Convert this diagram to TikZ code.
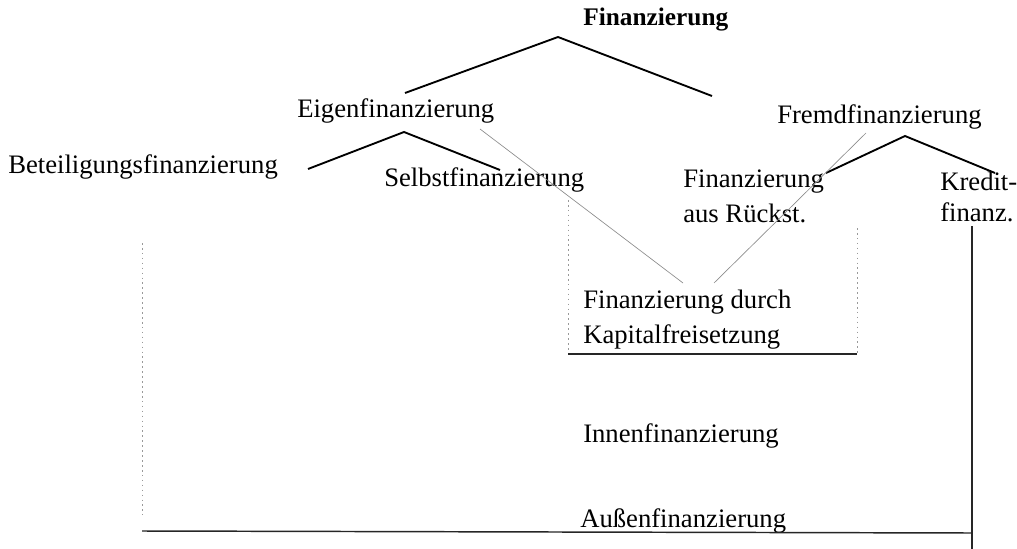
\documentclass[tikz,border=0pt]{standalone}
\usepackage{fontspec}
\setmainfont{Liberation Serif}
\begin{document}
\begin{tikzpicture}[x=0.75pt,y=-0.75pt,
  lbl/.style={anchor=west,inner sep=0pt,font=\fontsize{20}{22}\selectfont},
  tree/.style={line width=1.4pt,black},
  thin/.style={line width=0.5pt,black!45},
  dotv/.style={line width=0.6pt,black!40,dash pattern=on 1.2pt off 2.5pt},
  solidl/.style={line width=1.1pt,black!85}]
\useasboundingbox (0,0) rectangle (1017,549);
% text nodes
\node[lbl,font=\bfseries\fontsize{19}{21}\selectfont] (fin) at (583,20) {Finanzierung};
\node[lbl] (eigen) at (297,111) {Eigenfinanzierung};
\node[lbl] (fremd) at (777,117) {Fremdfinanzierung};
\node[lbl] (beteil) at (8,167) {Beteiligungsfinanzierung};
\node[lbl] (selbst) at (384,180) {Selbstfinanzierung};
\node[lbl] (rueck1) at (683,182) {Finanzierung};
\node[lbl] (rueck2) at (683,213) {aus Rückst.};
\node[lbl] (kredit1) at (940,181) {Kredit-};
\node[lbl] (kredit2) at (940,212) {finanz.};
\node[lbl] (kap1) at (583,302) {Finanzierung durch};
\node[lbl] (kap2) at (583,337) {Kapitalfreisetzung};
\node[lbl] (innen) at (583,436) {Innenfinanzierung};
\node[lbl] (aussen) at (580,521) {Außenfinanzierung};
% tree coordinates
\coordinate (p0) at (558,37);
\coordinate (p0l) at (405,93);
\coordinate (p0r) at (712,96);
\coordinate (p1) at (404,132);
\coordinate (p1l) at (308,169);
\coordinate (p1r) at (500,170);
\coordinate (p2) at (905,136);
\coordinate (p2l) at (826,173);
\coordinate (p2r) at (995,173);
\draw[tree] (p0l) -- (p0) -- (p0r);
\draw[tree] (p1l) -- (p1) -- (p1r);
\draw[tree] (p2l) -- (p2) -- (p2r);
% thin connectors to Kapitalfreisetzung
\coordinate (g1a) at (480,129);
\coordinate (g1b) at (683,283);
\coordinate (g2a) at (866,133);
\coordinate (g2b) at (714,283);
\draw[thin] (g1a) -- (g1b);
\draw[thin] (g2a) -- (g2b);
% box around Kapitalfreisetzung
\coordinate (bl) at (568,200);
\coordinate (blb) at (568,354);
\coordinate (br) at (857,228);
\coordinate (brb) at (857,354);
\draw[dotv] (bl) -- (blb);
\draw[dotv] (br) -- (brb);
\draw[solidl] (blb) -- (brb);
% outer frame
\coordinate (lt) at (142,243);
\coordinate (lb) at (142,531);
\coordinate (rt) at (972,226);
\coordinate (rb) at (972,549);
\coordinate (rbl) at (972,533);
\draw[dotv] (lt) -- (142,515);
\draw[solidl] (lb) -- (rbl);
\draw[solidl] (rt) -- (rb);
\end{tikzpicture}
\end{document}
